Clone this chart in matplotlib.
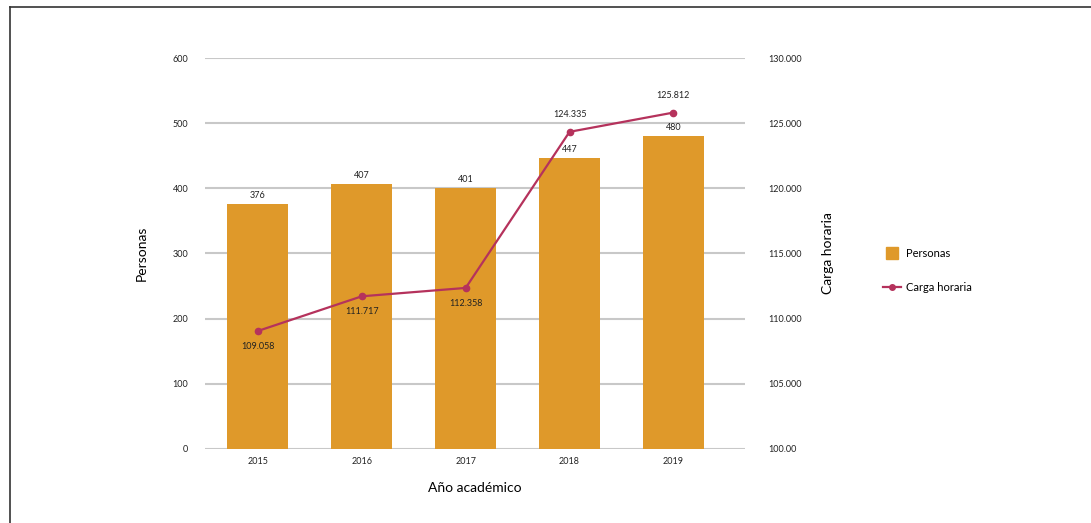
import numpy as np
import matplotlib.pyplot as plt
from matplotlib.lines import Line2D

plt.rcParams['font.family'] = ['Lato', 'DejaVu Sans']

years = ['2015', '2016', '2017', '2018', '2019']
personas = [376, 407, 401, 447, 480]
carga = [109058, 111717, 112358, 124335, 125812]
carga_labels = ['109.058', '111.717', '112.358', '124.335', '125.812']
left_ticks = [0, 100, 200, 300, 400, 500, 600]
right_ticks = [100000, 105000, 110000, 115000, 120000, 125000, 130000]
right_labels = ['100.00', '105.000', '110.000', '115.000', '120.000', '125.000', '130.000']

bar_color = '#DF992A'
line_color = '#B5325C'

fig = plt.figure(figsize=(10.91, 5.23), dpi=100)
ax = fig.add_axes([0.1879, 0.1415, 0.495, 0.7476])
x = np.arange(len(years))

ax.bar(x, personas, width=0.587, color=bar_color, zorder=2)
for i, v in enumerate(personas):
    ax.text(i, v + 6, str(v), ha='center', va='bottom', fontsize=6.5, color='#222222')

ax.set_xlim(-0.51, 4.69)
ax.set_ylim(0, 600)
ax.set_yticks(left_ticks)
ax.set_xticks(x)
ax.set_xticklabels(years)
ax.grid(axis='y', color='#C8C8C8', linewidth=1.5, zorder=0)
ax.set_axisbelow(True)
for s in ax.spines.values():
    s.set_visible(False)
ax.tick_params(axis='both', length=0, labelsize=6.5, colors='#222222')
ax.tick_params(axis='y', pad=12)
ax.tick_params(axis='x', pad=6)
ax.set_ylabel('Personas', fontsize=10, labelpad=18)
ax.set_xlabel('Año académico', fontsize=10, labelpad=11)

ax2 = ax.twinx()
ax2.plot(x, carga, color=line_color, marker='o', markersize=4.5, linewidth=1.6, zorder=3)
ax2.set_ylim(100000, 130000)
ax2.set_yticks(right_ticks)
ax2.set_yticklabels(right_labels)
for s in ax2.spines.values():
    s.set_visible(False)
ax2.tick_params(axis='y', length=0, labelsize=6.5, pad=17, colors='#222222')
ax2.set_ylabel('Carga horaria', fontsize=10, labelpad=14)

for i, (v, lab) in enumerate(zip(carga, carga_labels)):
    if i < 3:
        ax2.annotate(lab, (i, v), xytext=(0, -8), textcoords='offset points',
                     ha='center', va='top', fontsize=6.5, color='#222222')
    else:
        ax2.annotate(lab, (i, v), xytext=(0, 9), textcoords='offset points',
                     ha='center', va='bottom', fontsize=6.5, color='#222222')

handles = [
    Line2D([], [], marker='s', linestyle='none', markersize=8, color=bar_color),
    Line2D([], [], marker='o', markersize=4, linewidth=1.6, color=line_color),
]
fig.legend(handles, ['Personas', 'Carga horaria'], loc='center left',
           bbox_to_anchor=(0.8, 0.483), frameon=False, fontsize=8,
           labelspacing=2.0, handlelength=1.6, handletextpad=0.5)

fig.add_artist(Line2D([10 / 1091, 1], [1 - 7 / 523, 1 - 7 / 523], color='#333333', linewidth=1.2))
fig.add_artist(Line2D([10 / 1091, 10 / 1091], [0, 1 - 7 / 523], color='#333333', linewidth=1.2))

fig.savefig('out.png', dpi=100)
